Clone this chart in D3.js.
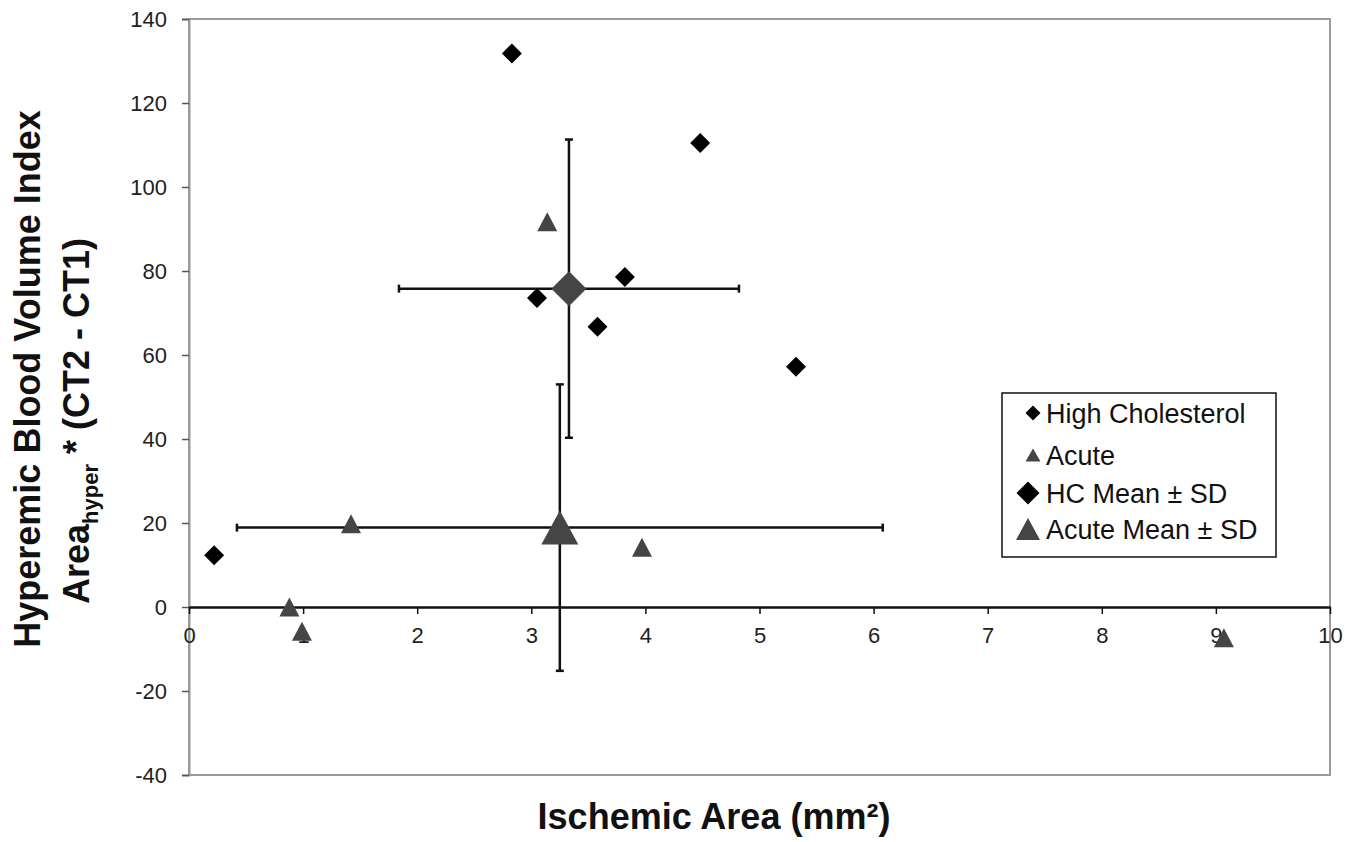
<!DOCTYPE html>
<html>
<head>
<meta charset="utf-8">
<script src="https://cdn.jsdelivr.net/npm/d3@7"></script>
<style>
  body { margin: 0; background: #fff; }
  text { font-family: "Liberation Sans", Arial, sans-serif; }
</style>
</head>
<body>
<svg id="chart"></svg>
<script>
// individual animals
const hcX = [0.22, 2.83, 4.48, 3.82, 3.05, 3.58, 5.32];
const hcY = [12.3, 131.8, 110.5, 78.6, 73.6, 66.7, 57.2];
const acuteX = [0.88, 0.99, 1.42, 3.14, 3.97, 9.07];
const acuteY = [0.0, -5.8, 19.8, 91.7, 14.2, -7.3];

// group means +- SD
const meanGroups = ["HC", "Acute"];
const meanX = [3.33, 3.25];
const meanY = [75.8, 18.9];
const sdX = [1.49, 2.83];
const sdY = [35.5, 34.1];

const xTicks = [0, 1, 2, 3, 4, 5, 6, 7, 8, 9, 10];
const yTicks = [-40, -20, 0, 20, 40, 60, 80, 100, 120, 140];
const legendLabels = ["High Cholesterol", "Acute", "HC Mean \u00b1 SD", "Acute Mean \u00b1 SD"];

const W = 1361, H = 842;
const svg = d3.select("#chart").attr("width", W).attr("height", H);

const x = d3.scaleLinear().domain([0, 10]).range([189, 1330]);
const y = d3.scaleLinear().domain([-40, 140]).range([775, 19]);

// marker paths, both centred on their bounding box
function diamond(half) {
  const p = d3.path();
  p.moveTo(0, -half); p.lineTo(half, 0); p.lineTo(0, half); p.lineTo(-half, 0); p.closePath();
  return p.toString();
}
function triangle(w, h) {
  const p = d3.path();
  p.moveTo(0, -h / 2); p.lineTo(w / 2, h / 2); p.lineTo(-w / 2, h / 2); p.closePath();
  return p.toString();
}

const DARK = "#454545";
const plain = d => String(d); // hyphen minus like the original

// plot frame (gray)
svg.append("rect")
  .attr("x", x(0)).attr("y", y(140))
  .attr("width", x(10) - x(0)).attr("height", y(-40) - y(140))
  .attr("fill", "none").attr("stroke", "#9a9a9a").attr("stroke-width", 2);

// y axis, gray with ticks to the left
const yAxis = svg.append("g")
  .attr("transform", `translate(${x(0)},0)`)
  .attr("font-size", 22)
  .call(d3.axisLeft(y).tickValues(yTicks).tickFormat(plain).tickSize(7).tickPadding(15));
yAxis.attr("font-size", 22).attr("font-family", "'Liberation Sans', Arial, sans-serif");
yAxis.select(".domain").attr("stroke", "#9a9a9a").attr("stroke-width", 2);
yAxis.selectAll(".tick line").attr("stroke", "#555").attr("stroke-width", 1.5);
yAxis.selectAll(".tick text").attr("fill", "#222");

// x axis sits on y = 0
const xAxis = svg.append("g")
  .attr("transform", `translate(0,${y(0)})`)
  .call(d3.axisBottom(x).tickValues(xTicks).tickFormat(plain).tickSize(7).tickSizeOuter(0).tickPadding(13));
xAxis.attr("font-size", 22).attr("font-family", "'Liberation Sans', Arial, sans-serif");
xAxis.select(".domain").attr("stroke", "#111").attr("stroke-width", 2.5);
xAxis.selectAll(".tick line").attr("stroke", "#111").attr("stroke-width", 1.5);
xAxis.selectAll(".tick text").attr("fill", "#222");

// error bars
const eb = svg.append("g").attr("stroke", "#111").attr("stroke-width", 2.5);
meanGroups.forEach((g, i) => {
  const cx = x(meanX[i]), cy = y(meanY[i]);
  const x0 = x(meanX[i] - sdX[i]), x1 = x(meanX[i] + sdX[i]);
  const y0 = y(meanY[i] - sdY[i]), y1 = y(meanY[i] + sdY[i]);
  eb.append("line").attr("x1", x0).attr("x2", x1).attr("y1", cy).attr("y2", cy);
  eb.append("line").attr("x1", cx).attr("x2", cx).attr("y1", y0).attr("y2", y1);
  [x0, x1].forEach(xx => eb.append("line").attr("x1", xx).attr("x2", xx).attr("y1", cy - 4).attr("y2", cy + 4));
  [y0, y1].forEach(yy => eb.append("line").attr("y1", yy).attr("y2", yy).attr("x1", cx - 4).attr("x2", cx + 4));
});

// individual points
svg.append("g").selectAll("path")
  .data(d3.zip(hcX, hcY))
  .join("path")
  .attr("d", diamond(10))
  .attr("transform", d => `translate(${x(d[0])},${y(d[1])})`)
  .attr("fill", "#000");

svg.append("g").selectAll("path")
  .data(d3.zip(acuteX, acuteY))
  .join("path")
  .attr("d", triangle(20, 19))
  .attr("transform", d => `translate(${x(d[0])},${y(d[1])})`)
  .attr("fill", DARK);

// means
svg.append("path")
  .attr("d", diamond(17.5))
  .attr("transform", `translate(${x(meanX[0])},${y(meanY[0])})`)
  .attr("fill", DARK);
svg.append("path")
  .attr("d", triangle(37, 34))
  .attr("transform", `translate(${x(meanX[1])},${y(meanY[1])})`)
  .attr("fill", DARK);

// legend
const lg = svg.append("g");
lg.append("rect")
  .attr("x", 1002).attr("y", 393).attr("width", 274).attr("height", 164)
  .attr("fill", "#fff").attr("stroke", "#111").attr("stroke-width", 1.5);
const legendMarks = [
  { d: diamond(7.5), fill: "#000", cx: 1033, cy: 413 },
  { d: triangle(15, 13), fill: DARK, cx: 1033, cy: 455 },
  { d: diamond(11.5), fill: "#000", cx: 1028, cy: 493 },
  { d: triangle(24, 22), fill: DARK, cx: 1028, cy: 529 }
];
legendLabels.forEach((label, i) => {
  const m = legendMarks[i];
  lg.append("path").attr("d", m.d).attr("fill", m.fill)
    .attr("transform", `translate(${m.cx},${m.cy})`);
  lg.append("text")
    .attr("x", 1046).attr("y", m.cy + 10)
    .attr("font-size", 27).attr("fill", "#111")
    .text(label);
});

// axis titles
svg.append("text")
  .attr("x", 714).attr("y", 829)
  .attr("text-anchor", "middle")
  .attr("font-size", 36).attr("font-weight", "bold").attr("fill", "#111")
  .text("Ischemic Area (mm\u00b2)");

const yt = svg.append("g").attr("transform", "rotate(-90)");
yt.append("text")
  .attr("x", -379).attr("y", 40)
  .attr("text-anchor", "middle")
  .attr("font-size", 36).attr("font-weight", "bold").attr("fill", "#111")
  .text("Hyperemic Blood Volume Index");
const t2 = yt.append("text")
  .attr("x", -421).attr("y", 89)
  .attr("text-anchor", "middle")
  .attr("font-size", 36).attr("font-weight", "bold").attr("fill", "#111");
t2.append("tspan").text("Area");
t2.append("tspan").attr("font-size", 22).attr("dy", 9).text("hyper");
t2.append("tspan").attr("dy", -9).text(" * (CT2 - CT1)");
</script>
</body>
</html>
